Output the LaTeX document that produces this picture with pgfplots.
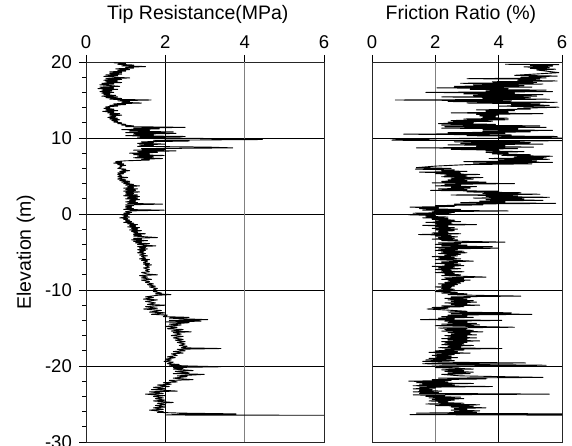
\documentclass[border=0pt]{standalone}
\usepackage{pgfplots}
\usepackage{pgfplotstable}
\pgfplotsset{compat=1.18}
\usepackage{fontspec}
\setmainfont{Liberation Sans}

\pgfplotstableread[row sep=\\]{
e v\\
19.9 0.7\\ 19.8 1.0\\ 19.7 0.8\\ 19.6 1.2\\ 19.5 0.9\\ 19.4 1.5\\ 19.3 1.0\\ 19.2 1.2\\ 19.1 0.75\\ 19.0 1.1\\
18.9 0.8\\ 18.8 1.0\\ 18.7 0.6\\ 18.6 0.9\\ 18.5 0.6\\ 18.4 0.9\\ 18.3 0.5\\ 18.2 0.8\\ 18.1 0.45\\ 18.0 0.7\\
17.9 1.1\\ 17.8 0.5\\ 17.7 0.9\\ 17.6 0.45\\ 17.5 0.8\\ 17.4 0.5\\ 17.3 0.9\\ 17.2 0.4\\ 17.1 0.7\\ 17.0 0.35\\
16.9 0.6\\ 16.8 0.85\\ 16.7 0.35\\ 16.6 0.7\\ 16.5 0.3\\ 16.4 0.8\\ 16.3 0.4\\ 16.2 0.65\\ 16.1 0.35\\ 16.0 0.7\\
15.9 0.4\\ 15.8 0.6\\ 15.7 0.45\\ 15.6 0.75\\ 15.5 0.4\\ 15.4 0.8\\ 15.3 0.5\\ 15.2 0.9\\ 15.1 0.6\\ 15.0 1.64\\
14.9 0.8\\ 14.8 1.1\\ 14.7 0.9\\ 14.6 1.4\\ 14.5 0.7\\ 14.4 1.0\\ 14.3 0.6\\ 14.2 0.8\\ 14.1 0.5\\ 14.0 0.6\\
13.9 0.45\\ 13.8 0.7\\ 13.7 0.5\\ 13.6 0.8\\ 13.5 0.42\\ 13.4 0.7\\ 13.3 0.55\\ 13.2 0.85\\ 13.1 0.6\\ 13.0 0.9\\
12.9 0.6\\ 12.8 0.75\\ 12.7 0.55\\ 12.6 0.8\\ 12.5 0.6\\ 12.4 0.85\\ 12.3 0.65\\ 12.2 0.8\\ 12.1 0.7\\ 12.0 0.9\\
11.9 0.8\\ 11.8 1.0\\ 11.7 0.9\\ 11.6 1.2\\ 11.5 1.0\\ 11.4 2.5\\ 11.3 1.2\\ 11.2 1.85\\ 11.1 0.9\\ 11.0 1.6\\
10.9 1.1\\ 10.8 2.2\\ 10.7 1.0\\ 10.6 2.27\\ 10.5 1.2\\ 10.4 1.7\\ 10.3 1.0\\ 10.2 2.5\\ 10.1 1.3\\ 10.0 2.0\\
9.9 3.6\\ 9.8 4.45\\ 9.7 1.7\\ 9.6 2.6\\ 9.5 1.4\\ 9.4 1.7\\ 9.3 1.3\\ 9.2 2.0\\ 9.1 1.35\\ 9.0 1.7\\
8.9 1.3\\ 8.8 3.1\\ 8.7 3.7\\ 8.6 1.4\\ 8.5 2.0\\ 8.4 1.2\\ 8.3 2.27\\ 8.2 1.3\\ 8.1 1.8\\ 8.0 1.1\\
7.9 1.6\\ 7.8 1.2\\ 7.7 1.97\\ 7.6 1.3\\ 7.5 1.7\\ 7.4 1.2\\ 7.3 1.93\\ 7.2 1.4\\ 7.1 1.6\\ 7.0 1.0\\
6.9 0.75\\ 6.8 0.9\\ 6.7 0.7\\ 6.6 0.95\\ 6.5 0.8\\ 6.4 1.0\\ 6.3 0.85\\ 6.2 0.9\\ 6.0 0.8\\ 5.9 1.0\\
5.8 0.9\\ 5.7 1.1\\ 5.6 0.85\\ 5.5 1.0\\ 5.4 0.8\\ 5.3 0.95\\ 5.2 0.8\\ 5.0 0.9\\ 4.9 0.8\\ 4.8 1.05\\
4.7 0.85\\ 4.6 0.8\\ 4.5 1.0\\ 4.4 0.85\\ 4.3 1.1\\ 4.2 0.9\\ 4.1 1.1\\ 4.0 0.95\\ 3.9 1.2\\ 3.8 1.0\\
3.7 1.35\\ 3.6 1.05\\ 3.5 1.2\\ 3.4 0.95\\ 3.3 1.3\\ 3.2 1.0\\ 3.1 1.25\\ 3.0 0.95\\ 2.9 1.35\\ 2.8 1.0\\
2.7 1.2\\ 2.6 1.0\\ 2.5 1.3\\ 2.4 0.95\\ 2.3 1.35\\ 2.2 1.05\\ 2.1 1.3\\ 2.0 1.0\\ 1.9 1.35\\ 1.8 1.1\\
1.7 1.25\\ 1.6 1.0\\ 1.5 1.3\\ 1.4 1.05\\ 1.3 1.93\\ 1.2 1.0\\ 1.1 1.2\\ 1.0 1.0\\ 0.9 1.15\\ 0.8 1.0\\
0.7 1.2\\ 0.6 0.95\\ 0.5 1.97\\ 0.4 1.1\\ 0.3 1.0\\ 0.2 1.15\\ 0.1 0.95\\ 0.0 1.1\\ -0.1 0.9\\ -0.2 1.05\\
-0.3 0.95\\ -0.4 1.1\\ -0.5 0.85\\ -0.6 1.05\\ -0.7 0.95\\ -0.8 1.1\\ -0.9 1.0\\ -1.0 1.15\\ -1.1 0.95\\ -1.2 1.2\\
-1.3 1.05\\ -1.4 1.3\\ -1.5 1.1\\ -1.6 1.25\\ -1.7 1.05\\ -1.8 1.35\\ -1.9 1.15\\ -2.0 1.3\\ -2.1 1.1\\ -2.2 1.4\\
-2.3 1.15\\ -2.4 1.3\\ -2.5 1.2\\ -2.6 1.5\\ -2.7 1.2\\ -2.8 1.4\\ -2.9 1.2\\ -3.0 1.5\\ -3.1 1.8\\ -3.2 1.2\\
-3.3 1.4\\ -3.4 1.15\\ -3.5 1.55\\ -3.6 1.2\\ -3.7 1.4\\ -3.8 1.25\\ -3.9 1.6\\ -4.0 1.3\\ -4.1 1.45\\ -4.2 1.76\\
-4.3 1.3\\ -4.4 1.5\\ -4.5 1.35\\ -4.6 1.55\\ -4.7 1.3\\ -4.8 1.5\\ -4.9 1.35\\ -5.0 1.45\\ -5.1 1.3\\ -5.2 1.5\\
-5.4 1.35\\ -5.5 1.55\\ -5.6 1.4\\ -5.8 1.5\\ -5.9 1.35\\ -6.0 1.6\\ -6.1 1.4\\ -6.2 1.55\\ -6.4 1.45\\ -6.5 1.6\\
-6.6 1.45\\ -6.7 1.65\\ -6.8 1.5\\ -7.0 1.6\\ -7.1 1.45\\ -7.3 1.6\\ -7.4 1.5\\ -7.6 1.6\\ -7.7 1.4\\ -7.9 1.55\\
-8.0 1.8\\ -8.1 1.35\\ -8.3 1.55\\ -8.4 1.4\\ -8.6 1.65\\ -8.7 1.4\\ -8.9 1.6\\ -9.0 1.5\\ -9.2 1.7\\ -9.3 1.55\\
-9.5 1.75\\ -9.6 1.6\\ -9.8 1.8\\ -9.9 1.7\\ -10.1 1.8\\ -10.2 1.7\\ -10.4 1.9\\ -10.5 1.75\\ -10.6 2.14\\ -10.7 1.8\\
-10.9 1.5\\ -11.0 1.7\\ -11.2 1.45\\ -11.3 1.8\\ -11.5 1.5\\ -11.7 1.75\\ -11.9 1.55\\ -12.0 2.0\\ -12.2 1.5\\ -12.4 1.8\\
-12.5 1.45\\ -12.7 1.9\\ -12.9 1.6\\ -13.0 2.0\\ -13.2 1.65\\ -13.3 2.05\\ -13.5 1.95\\ -13.6 2.6\\ -13.7 2.1\\ -13.8 2.5\\
-13.9 3.07\\ -14.0 2.1\\ -14.1 2.9\\ -14.2 2.0\\ -14.3 2.6\\ -14.5 2.1\\ -14.6 2.4\\ -14.8 2.0\\ -14.9 2.3\\ -15.1 2.05\\
-15.2 2.45\\ -15.4 2.15\\ -15.5 2.65\\ -15.6 2.2\\ -15.8 2.4\\ -16.0 2.15\\ -16.1 2.45\\ -16.3 2.2\\ -16.5 2.45\\ -16.6 2.25\\
-16.8 2.5\\ -16.9 2.3\\ -17.1 2.5\\ -17.3 2.35\\ -17.4 2.55\\ -17.6 2.4\\ -17.7 3.4\\ -17.8 2.3\\ -18.0 2.5\\ -18.1 2.2\\
-18.3 2.45\\ -18.4 2.15\\ -18.6 2.3\\ -18.8 2.05\\ -18.9 2.25\\ -19.1 2.0\\ -19.2 2.15\\ -19.4 1.97\\ -19.5 2.2\\ -19.7 2.05\\
-19.8 2.35\\ -19.9 2.1\\ -20.0 2.6\\ -20.1 3.4\\ -20.2 2.2\\ -20.3 2.45\\ -20.4 2.2\\ -20.6 2.7\\ -20.7 2.25\\ -20.9 2.6\\
-21.0 2.2\\ -21.1 2.98\\ -21.3 2.3\\ -21.4 2.55\\ -21.6 2.2\\ -21.8 2.7\\ -21.9 2.1\\ -22.1 2.3\\ -22.2 1.95\\ -22.4 2.15\\
-22.5 1.8\\ -22.7 2.1\\ -22.8 1.7\\ -23.0 2.0\\ -23.1 1.65\\ -23.3 2.3\\ -23.4 1.6\\ -23.6 1.95\\ -23.7 1.5\\ -23.9 2.0\\
-24.0 1.7\\ -24.2 1.95\\ -24.3 1.75\\ -24.5 2.0\\ -24.6 1.7\\ -24.8 2.2\\ -24.9 1.8\\ -25.1 2.0\\ -25.2 1.75\\ -25.4 2.0\\
-25.5 1.7\\ -25.7 1.95\\ -25.8 1.6\\ -26.0 1.95\\ -26.1 1.8\\ -26.2 2.4\\ -26.3 3.78\\ -26.35 2.4\\ -26.45 2.0\\ -26.5 8.0\\
}\tipdata

\pgfplotstableread[row sep=\\]{
e v\\
19.7 4.2\\ 19.65 5.9\\ 19.55 5.0\\ 19.45 5.7\\ 19.35 4.8\\ 19.25 5.6\\ 19.15 5.0\\ 19.05 5.8\\ 18.95 5.2\\ 18.6 5.9\\
18.25 4.5\\ 18.15 5.85\\ 18.0 4.7\\ 17.9 5.5\\ 17.8 3.0\\ 17.75 5.3\\ 17.6 4.6\\ 17.5 5.85\\ 17.4 3.8\\ 17.3 5.2\\
17.2 2.8\\ 17.1 5.4\\ 17.0 3.2\\ 16.9 4.8\\ 16.8 2.6\\ 16.7 5.05\\ 16.6 2.05\\ 16.5 4.3\\ 16.4 3.1\\ 16.3 5.5\\
16.2 3.6\\ 16.1 5.7\\ 16.0 1.7\\ 15.9 4.5\\ 15.8 2.9\\ 15.7 5.4\\ 15.6 3.2\\ 15.5 5.2\\ 15.4 2.2\\ 15.3 5.0\\
15.2 3.5\\ 15.1 5.6\\ 15.0 0.74\\ 14.9 4.4\\ 14.8 2.4\\ 14.7 5.85\\ 14.6 3.0\\ 14.5 5.3\\ 14.4 4.4\\ 14.3 5.6\\
14.2 4.0\\ 14.05 5.9\\ 13.9 4.6\\ 13.8 5.0\\ 13.7 3.3\\ 13.6 4.5\\ 13.5 3.6\\ 13.4 4.3\\ 13.3 2.5\\ 13.2 5.4\\
13.1 3.3\\ 13.0 4.0\\ 12.9 3.4\\ 12.8 3.9\\ 12.7 3.5\\ 12.6 4.3\\ 12.5 2.9\\ 12.4 4.3\\ 12.3 2.5\\ 12.2 3.8\\
12.1 2.4\\ 12.0 3.2\\ 11.9 2.1\\ 11.8 3.9\\ 11.7 2.2\\ 11.6 5.3\\ 11.5 2.3\\ 11.4 5.5\\ 11.3 2.2\\ 11.2 4.6\\
11.1 3.5\\ 11.0 5.7\\ 10.9 3.5\\ 10.8 5.0\\ 10.7 2.4\\ 10.6 4.2\\ 10.5 1.0\\ 10.4 4.4\\ 10.3 3.0\\ 10.2 5.85\\
10.1 4.0\\ 10.0 6.0\\ 9.9 0.58\\ 9.8 1.8\\ 9.7 0.63\\ 9.65 6.0\\ 9.5 2.6\\ 9.4 5.0\\ 9.3 2.8\\ 9.2 5.4\\
9.1 2.4\\ 9.0 4.2\\ 8.9 3.3\\ 8.8 5.1\\ 8.7 1.4\\ 8.6 4.6\\ 8.5 2.5\\ 8.4 4.0\\ 8.3 3.6\\ 8.2 4.8\\
8.1 3.6\\ 8.0 4.3\\ 7.9 3.8\\ 7.8 5.0\\ 7.7 4.1\\ 7.6 5.7\\ 7.5 4.5\\ 7.4 5.5\\ 7.3 3.7\\ 7.2 5.6\\
7.1 4.0\\ 7.0 5.2\\ 6.9 2.9\\ 6.8 5.7\\ 6.7 3.2\\ 6.6 5.05\\ 6.5 3.0\\ 6.3 2.0\\ 6.1 1.4\\ 6.0 2.5\\
5.9 1.37\\ 5.8 2.6\\ 5.7 2.2\\ 5.6 3.0\\ 5.5 1.5\\ 5.4 2.8\\ 5.3 2.0\\ 5.2 3.4\\ 5.1 2.3\\ 5.0 3.0\\
4.9 2.2\\ 4.8 3.5\\ 4.7 2.5\\ 4.6 3.2\\ 4.5 2.4\\ 4.4 3.0\\ 4.3 2.2\\ 4.2 3.6\\ 4.1 1.9\\ 4.0 4.5\\
3.9 2.3\\ 3.8 2.8\\ 3.7 2.0\\ 3.6 3.3\\ 3.5 2.5\\ 3.4 3.1\\ 3.3 2.1\\ 3.2 3.0\\ 3.1 1.85\\ 3.0 4.0\\
2.9 3.0\\ 2.8 4.7\\ 2.7 3.5\\ 2.6 5.3\\ 2.5 2.5\\ 2.4 4.6\\ 2.3 3.6\\ 2.2 5.6\\ 2.1 3.2\\ 2.0 4.8\\
1.9 3.6\\ 1.8 5.4\\ 1.7 3.4\\ 1.6 4.2\\ 1.5 2.8\\ 1.4 5.8\\ 1.3 2.6\\ 1.2 3.5\\ 1.1 2.0\\ 1.0 2.6\\
0.9 1.2\\ 0.8 2.1\\ 0.7 1.5\\ 0.6 2.8\\ 0.5 1.6\\ 0.4 4.3\\ 0.3 1.9\\ 0.2 2.6\\ 0.1 1.3\\ 0.0 2.5\\
-0.1 1.15\\ -0.2 2.0\\ -0.3 1.7\\ -0.4 2.4\\ -0.5 1.6\\ -0.6 2.4\\ -0.7 1.9\\ -0.8 2.6\\ -0.9 2.0\\ -1.0 2.8\\
-1.1 1.7\\ -1.2 2.5\\ -1.3 2.0\\ -1.4 3.3\\ -1.5 1.6\\ -1.6 2.4\\ -1.7 2.0\\ -1.8 2.6\\ -1.9 1.9\\ -2.0 2.7\\
-2.1 2.0\\ -2.2 2.6\\ -2.3 2.1\\ -2.4 2.4\\ -2.5 1.9\\ -2.6 2.8\\ -2.7 1.47\\ -2.8 2.5\\ -2.9 2.0\\ -3.0 2.7\\
-3.1 2.1\\ -3.2 2.6\\ -3.3 1.9\\ -3.4 2.7\\ -3.5 2.2\\ -3.6 2.9\\ -3.7 4.2\\ -3.8 2.1\\ -3.9 2.8\\ -4.0 2.0\\
-4.1 3.0\\ -4.2 2.2\\ -4.3 3.8\\ -4.4 2.0\\ -4.5 4.0\\ -4.6 2.1\\ -4.7 2.7\\ -4.8 2.0\\ -4.9 2.9\\ -5.0 2.2\\
-5.1 3.0\\ -5.2 2.1\\ -5.3 2.8\\ -5.4 2.3\\ -5.5 2.7\\ -5.6 1.9\\ -5.7 2.6\\ -5.8 2.1\\ -5.9 2.8\\ -6.0 2.0\\
-6.2 3.2\\ -6.3 2.2\\ -6.4 2.7\\ -6.5 2.0\\ -6.6 2.8\\ -6.7 2.3\\ -6.8 2.9\\ -6.9 1.9\\ -7.0 2.6\\ -7.1 2.1\\
-7.2 2.8\\ -7.3 2.0\\ -7.4 2.5\\ -7.5 2.2\\ -7.6 2.9\\ -7.7 2.0\\ -7.8 2.6\\ -7.9 2.3\\ -8.0 2.8\\ -8.1 2.2\\
-8.3 3.6\\ -8.4 2.3\\ -8.5 2.9\\ -8.6 2.2\\ -8.7 3.1\\ -8.8 2.4\\ -8.9 2.9\\ -9.0 2.3\\ -9.1 2.8\\ -9.2 2.1\\
-9.3 2.7\\ -9.4 2.2\\ -9.5 2.6\\ -9.6 2.0\\ -9.7 2.5\\ -9.8 2.2\\ -9.9 2.6\\ -10.0 2.1\\ -10.1 2.5\\ -10.2 2.0\\
-10.3 2.7\\ -10.4 2.2\\ -10.5 3.0\\ -10.6 2.4\\ -10.7 3.3\\ -10.8 4.7\\ -10.9 2.5\\ -11.0 3.1\\ -11.1 2.3\\ -11.2 3.0\\
-11.3 2.4\\ -11.4 3.2\\ -11.5 2.5\\ -11.6 3.3\\ -11.7 2.3\\ -11.8 3.0\\ -11.9 2.5\\ -12.0 3.4\\ -12.1 2.2\\ -12.2 2.9\\
-12.3 1.9\\ -12.4 2.4\\ -12.5 1.74\\ -12.6 2.2\\ -12.7 2.6\\ -12.8 3.0\\ -12.9 2.4\\ -13.0 4.4\\ -13.1 2.5\\ -13.2 5.05\\
-13.3 2.4\\ -13.4 3.0\\ -13.5 2.2\\ -13.6 3.2\\ -13.7 2.1\\ -13.8 2.6\\ -13.9 1.53\\ -14.0 4.1\\ -14.1 2.3\\ -14.2 3.0\\
-14.3 2.4\\ -14.4 3.3\\ -14.5 2.2\\ -14.6 3.4\\ -14.7 2.0\\ -14.9 4.5\\ -15.0 2.1\\ -15.1 3.0\\ -15.2 2.3\\ -15.3 3.2\\
-15.4 2.2\\ -15.5 3.5\\ -15.6 2.4\\ -15.7 3.1\\ -15.8 2.5\\ -15.9 3.3\\ -16.0 2.3\\ -16.1 3.0\\ -16.2 2.4\\ -16.3 3.3\\
-16.4 2.2\\ -16.5 3.0\\ -16.6 2.4\\ -16.7 3.4\\ -16.8 2.2\\ -16.9 3.0\\ -17.0 2.3\\ -17.1 2.9\\ -17.2 2.2\\ -17.3 3.2\\
-17.4 2.4\\ -17.5 2.8\\ -17.6 2.1\\ -17.7 4.1\\ -17.8 2.3\\ -17.9 2.9\\ -18.0 2.0\\ -18.1 2.7\\ -18.2 1.8\\ -18.3 3.1\\
-18.4 2.0\\ -18.5 2.6\\ -18.6 1.9\\ -18.7 2.5\\ -18.8 2.0\\ -18.9 2.7\\ -19.0 1.8\\ -19.1 2.5\\ -19.2 1.7\\ -19.3 2.6\\
-19.4 1.6\\ -19.5 2.2\\ -19.6 4.85\\ -19.7 1.6\\ -19.8 3.0\\ -19.9 5.5\\ -20.0 1.9\\ -20.1 2.8\\ -20.2 2.0\\ -20.4 3.2\\
-20.5 2.2\\ -20.6 2.9\\ -20.7 2.3\\ -20.8 3.2\\ -20.9 2.4\\ -21.0 3.1\\ -21.1 2.2\\ -21.3 2.8\\ -21.5 5.4\\ -21.6 2.1\\
-21.7 3.6\\ -21.8 1.9\\ -21.9 2.5\\ -22.0 1.16\\ -22.1 2.4\\ -22.2 1.4\\ -22.3 3.2\\ -22.4 1.5\\ -22.5 2.6\\ -22.6 1.3\\
-22.7 3.8\\ -22.8 1.5\\ -22.9 2.0\\ -23.0 1.3\\ -23.1 1.9\\ -23.2 1.5\\ -23.3 2.2\\ -23.4 1.3\\ -23.5 2.1\\ -23.6 1.5\\
-23.7 5.6\\ -23.8 1.3\\ -23.9 2.3\\ -24.0 1.7\\ -24.1 2.8\\ -24.2 1.8\\ -24.3 2.9\\ -24.4 1.9\\ -24.5 2.6\\ -24.6 1.8\\
-24.7 2.4\\ -24.8 2.1\\ -24.9 2.9\\ -25.0 1.7\\ -25.1 3.4\\ -25.2 2.0\\ -25.3 3.2\\ -25.4 2.5\\ -25.5 3.6\\ -25.6 2.6\\
-25.7 3.0\\ -25.8 2.5\\ -25.9 3.4\\ -26.0 2.6\\ -26.1 3.3\\ -26.2 1.4\\ -26.3 6.0\\ -26.4 1.2\\ -26.5 8.0\\
}\frdata

\pgfplotsset{
  cpt/.style={
    width=238pt, height=380pt, scale only axis,
    xmin=0, xmax=6, ymin=-30, ymax=20,
    ytick={-30,-20,...,20},
    minor x tick num=1,
    xtick pos=right, xticklabel pos=right,
    ytick pos=left,
    tick align=outside,
    major tick length=7pt, minor tick length=4pt,
    every tick/.style={black, line width=0.8pt},
    xmajorgrids=true, ymajorgrids=true,
    major grid style={black, line width=0.8pt},
    axis line style={black!85, line width=0.9pt},
    /pgf/number format/assume math mode=true,
    ticklabel style={font=\fontsize{18.5}{22}\selectfont, inner sep=0pt},
    xticklabel style={anchor=base, yshift=6pt},
    yticklabel style={anchor=east, xshift=-7pt},
    every axis title/.style={anchor=base, font=\fontsize{19.5}{23}\selectfont},
    every axis y label/.style={at={(axis description cs:-0.232,0.5)}, rotate=90, anchor=base, font=\fontsize{19.5}{23}\selectfont},
    clip=true,
  }
}

\begin{document}
\begin{tikzpicture}[x=1pt,y=1pt]
\useasboundingbox (0,0) rectangle (572,446);
\begin{axis}[cpt, at={(86pt,4pt)}, anchor=south west,
  width=238pt,
  xtick={0,2,6}, extra x ticks={4},
  extra x tick style={major grid style={black!50, line width=1.1pt}},
  minor y tick num=4,
  title={Tip Resistance(MPa)},
  title style={at={(axis description cs:0.47,1.113)}},
  ylabel={Elevation (m)},
]
\addplot[black, line width=0.9pt, line join=round] table[x=v, y=e] {\tipdata};
\end{axis}
\begin{axis}[cpt, at={(372pt,4pt)}, anchor=south west,
  width=190pt,
  xtick={0,4,6}, extra x ticks={2},
  extra x tick style={major grid style={black!50, line width=1.1pt}},
  yticklabels={}, ytick style={draw=none},
  title={Friction Ratio (\%)},
  title style={at={(axis description cs:0.468,1.113)}},
]
\addplot[black, line width=0.9pt, line join=round] table[x=v, y=e] {\frdata};
\end{axis}
\end{tikzpicture}
\end{document}
